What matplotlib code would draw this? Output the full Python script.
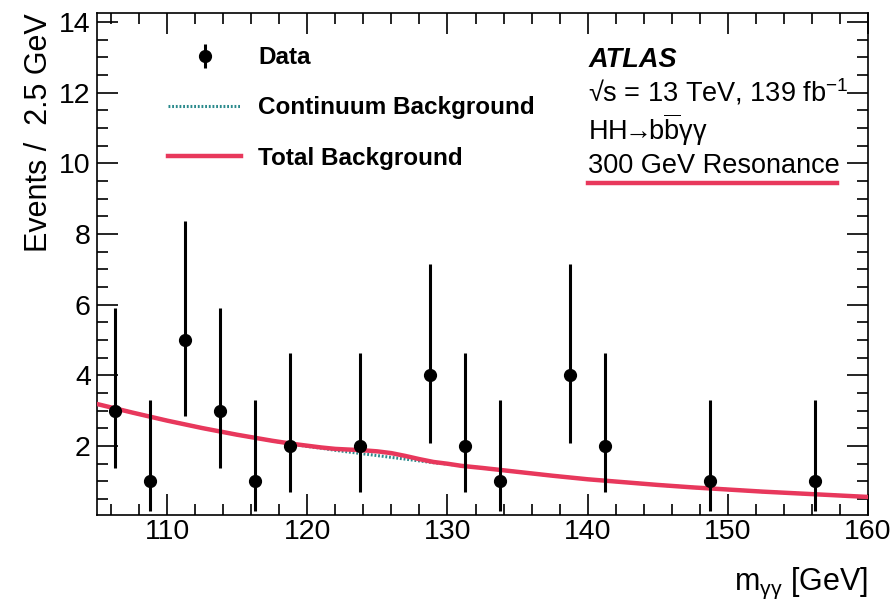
"""ATLAS-style HH->bbyy 300 GeV resonance myy distribution."""
import matplotlib
matplotlib.use("Agg")
import matplotlib.pyplot as plt
from matplotlib.lines import Line2D
from matplotlib.ticker import MultipleLocator

plt.rcParams["font.family"] = ["Liberation Sans", "DejaVu Sans"]
plt.rcParams["mathtext.fontset"] = "custom"
plt.rcParams["mathtext.rm"] = "Liberation Sans"
plt.rcParams["mathtext.it"] = "Liberation Sans:italic"
plt.rcParams["mathtext.bf"] = "Liberation Sans:bold"

# data (bin centres, counts, error band edges)
data_x = [106.25, 108.75, 111.25, 113.75, 116.25, 118.75, 123.75,
          128.75, 131.25, 133.75, 138.75, 141.25, 148.75, 156.25]
data_y = [3, 1, 5, 3, 1, 2, 2, 4, 2, 1, 4, 2, 1, 1]
data_lo = [1.37, 0.17, 2.84, 1.37, 0.17, 0.71, 0.71,
           2.09, 0.71, 0.17, 2.09, 0.71, 0.17, 0.17]
data_hi = [5.92, 3.30, 8.38, 5.92, 3.30, 4.64, 4.64,
           7.16, 4.64, 3.30, 7.16, 4.64, 3.30, 3.30]

# background curves
bkg_x = [105, 107.5, 110, 112.5, 115, 117.5, 119, 120, 121, 122, 123, 124,
         125, 126, 127, 128, 129, 130, 131, 132.5, 135, 137.5, 140, 142.5,
         145, 147.5, 150, 152.5, 155, 157.5, 160]
continuum = [3.19, 2.95, 2.72, 2.51, 2.32, 2.15, 2.05, 1.99, 1.94, 1.88,
             1.83, 1.78, 1.73, 1.68, 1.63, 1.58, 1.53, 1.49, 1.44, 1.38,
             1.27, 1.16, 1.06, 0.98, 0.90, 0.83, 0.77, 0.71, 0.66, 0.61, 0.56]
total = [3.19, 2.95, 2.72, 2.51, 2.32, 2.15, 2.06, 2.01, 1.96, 1.92,
         1.90, 1.88, 1.85, 1.80, 1.72, 1.63, 1.55, 1.50, 1.44, 1.38,
         1.27, 1.16, 1.06, 0.98, 0.90, 0.83, 0.77, 0.71, 0.66, 0.61, 0.56]

red = "#e8385c"
teal = "#2a8a8c"

fig = plt.figure(figsize=(8.96, 6.03), dpi=100)
ax = fig.add_axes((0.1083, 0.146, 0.8605, 0.832))

ax.plot(bkg_x, continuum, color=teal, lw=2.2, ls=(0, (0.6, 0.6)),
        label="Continuum Background", zorder=2)
ax.plot(bkg_x, total, color=red, lw=3.2, label="Total Background", zorder=3)
yerr = [[y - lo for y, lo in zip(data_y, data_lo)],
        [hi - y for y, hi in zip(data_y, data_hi)]]
ax.errorbar(data_x, data_y, yerr=yerr, fmt="o", color="black",
            ms=8.5, elinewidth=2.2, capsize=0, label="Data", zorder=4)

ax.set_xlim(105, 160)
ax.set_ylim(0.05, 14.25)
ax.xaxis.set_major_locator(MultipleLocator(10))
ax.xaxis.set_minor_locator(MultipleLocator(2))
ax.yaxis.set_major_locator(MultipleLocator(2))
ax.yaxis.set_minor_locator(MultipleLocator(0.5))
ax.tick_params(which="both", direction="in", top=True, right=True,
               width=1.2, labelsize=20.5)
ax.tick_params(which="major", length=15)
ax.tick_params(which="minor", length=8)
ax.tick_params(axis="x", which="major", pad=3)
ax.tick_params(axis="y", which="major", pad=4.5)
for spine in ax.spines.values():
    spine.set_linewidth(1.2)

ax.set_ylabel("Events /  2.5 GeV", fontsize=22, loc="top", labelpad=4)
ax.set_xlabel(r"m$_{\mathrm{γγ}}$ [GeV]", fontsize=22, loc="right", labelpad=15)

handles, labels = ax.get_legend_handles_labels()
order = [labels.index(n) for n in
         ["Data", "Continuum Background", "Total Background"]]
ax.legend([handles[i] for i in order], [labels[i] for i in order],
          loc="upper left", bbox_to_anchor=(0.0642, 0.978), frameon=False,
          prop={"weight": "bold", "size": 17.5}, handlelength=3.0,
          handletextpad=0.7, labelspacing=1.12)

ax.text(0.637, 0.893, "ATLAS", transform=ax.transAxes, fontsize=19.5,
        fontweight="bold", fontstyle="italic", va="baseline")
ax.text(0.637, 0.824, r"√s = 13 TeV, 139 fb$^{-1}$", transform=ax.transAxes,
        fontsize=19.5, va="baseline")
ax.text(0.637, 0.747, r"HH$\!\!\rightarrow\!\!$b$\overline{\mathrm{b}}$γγ",
        transform=ax.transAxes, fontsize=19.5, va="baseline")
ax.text(0.637, 0.682, "300 GeV Resonance", transform=ax.transAxes,
        fontsize=19.5, va="baseline")
ax.add_line(Line2D([0.637, 0.960], [0.662, 0.662], transform=ax.transAxes,
                   color=red, lw=3.2))

fig.savefig("out.png", dpi=100)
